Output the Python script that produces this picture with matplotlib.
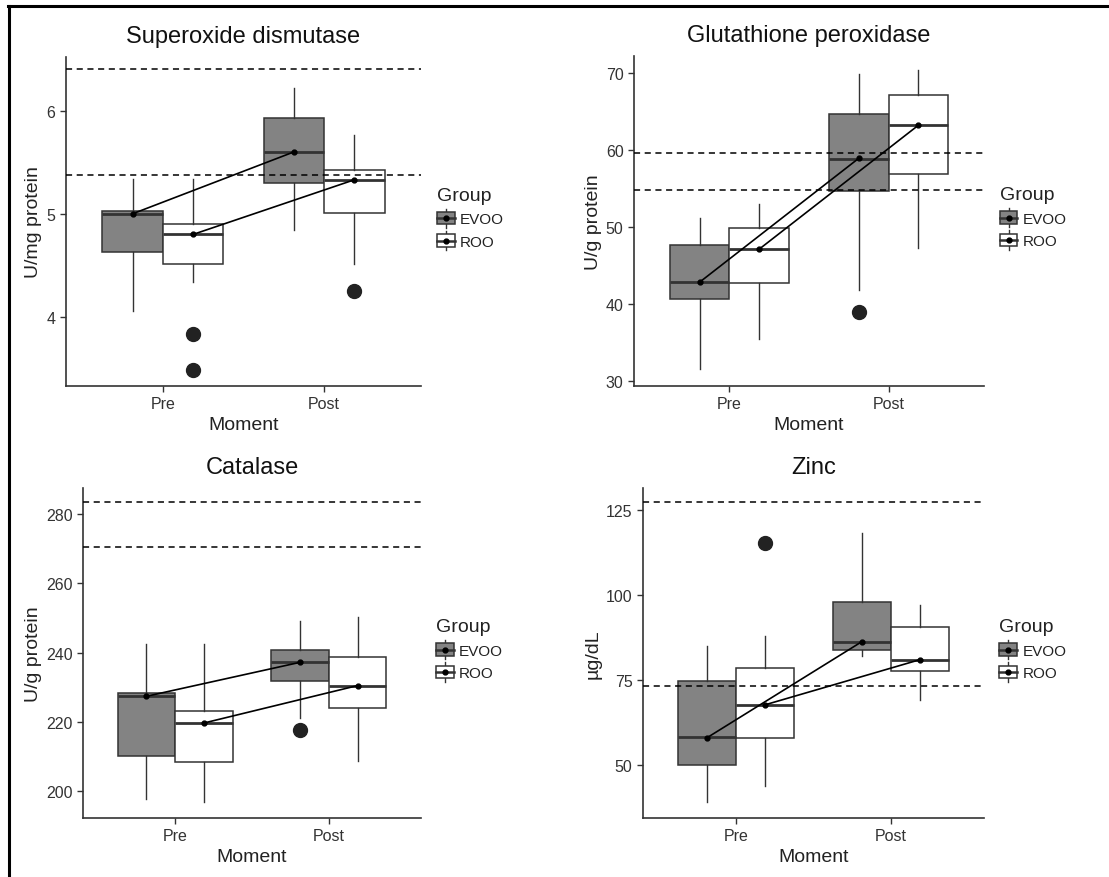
import matplotlib
matplotlib.use('Agg')
import matplotlib.pyplot as plt
from matplotlib.legend_handler import HandlerBase
from matplotlib.patches import Rectangle, Patch
from matplotlib.lines import Line2D

plt.rcParams['font.family'] = ['Liberation Sans', 'DejaVu Sans']

# order of every list: EVOO Pre, EVOO Post, ROO Pre, ROO Post
groups = ['EVOO', 'ROO']
moments = ['Pre', 'Post']
group_colors = ['#838383', '#ffffff']

# Superoxide dismutase
sod_whislo = [4.06, 4.84, 4.34, 4.51]
sod_q1 = [4.63, 5.30, 4.51, 5.01]
sod_med = [5.00, 5.60, 4.80, 5.33]
sod_q3 = [5.03, 5.93, 4.90, 5.42]
sod_whishi = [5.34, 6.22, 5.34, 5.76]
sod_mean = [5.00, 5.60, 4.80, 5.33]
sod_fliers = [[], [], [3.83, 3.49], [4.25]]
sod_ref = [5.38, 6.40]

# Glutathione peroxidase
gpx_whislo = [31.5, 41.8, 35.4, 47.2]
gpx_q1 = [40.6, 54.6, 42.7, 56.9]
gpx_med = [42.8, 58.8, 47.1, 63.2]
gpx_q3 = [47.6, 64.6, 49.9, 67.1]
gpx_whishi = [51.1, 69.9, 52.9, 70.4]
gpx_mean = [42.8, 58.9, 47.1, 63.2]
gpx_fliers = [[], [38.9], [], []]
gpx_ref = [54.8, 59.6]

# Catalase
cat_whislo = [197.8, 221.1, 196.8, 208.8]
cat_q1 = [210.1, 231.7, 208.5, 224.0]
cat_med = [227.6, 237.2, 219.7, 230.5]
cat_q3 = [228.3, 240.9, 223.3, 238.7]
cat_whishi = [242.5, 249.1, 242.4, 250.4]
cat_mean = [227.4, 237.2, 219.7, 230.5]
cat_fliers = [[], [217.8], [], []]
cat_ref = [270.4, 283.4]

# Zinc
zn_whislo = [39.1, 82.1, 43.8, 69.0]
zn_q1 = [50.0, 83.8, 57.8, 77.5]
zn_med = [58.1, 86.2, 67.6, 80.9]
zn_q3 = [74.5, 97.9, 78.4, 90.4]
zn_whishi = [85.0, 118.1, 87.9, 97.0]
zn_mean = [57.9, 86.2, 67.6, 80.9]
zn_fliers = [[], [], [115.1], []]
zn_ref = [73.1, 127.2]

titles = ['Superoxide dismutase', 'Glutathione peroxidase', 'Catalase', 'Zinc']
ylabels = ['U/mg protein', 'U/g protein', 'U/g protein', 'µg/dL']
yticks = [[4, 5, 6], [30, 40, 50, 60, 70], [200, 220, 240, 260, 280], [50, 75, 100, 125]]
ylims = [(3.33, 6.52), (29.3, 72.2), (192.3, 287.5), (34.3, 131.4)]

panel_data = [
    (sod_whislo, sod_q1, sod_med, sod_q3, sod_whishi, sod_mean, sod_fliers, sod_ref),
    (gpx_whislo, gpx_q1, gpx_med, gpx_q3, gpx_whishi, gpx_mean, gpx_fliers, gpx_ref),
    (cat_whislo, cat_q1, cat_med, cat_q3, cat_whishi, cat_mean, cat_fliers, cat_ref),
    (zn_whislo, zn_q1, zn_med, zn_q3, zn_whishi, zn_mean, zn_fliers, zn_ref),
]

# axes rectangles (figure fraction)
rects = [
    [0.0595, 0.5592, 0.3201, 0.3747],
    [0.5717, 0.5592, 0.3156, 0.3759],
    [0.0748, 0.0672, 0.3048, 0.3759],
    [0.5798, 0.0672, 0.3075, 0.3759],
]

EDGE = '#333333'


class BoxKeyHandler(HandlerBase):
    """ggplot-like boxplot key: box, whisker, median, mean dot"""
    def create_artists(self, legend, orig_handle, xdescent, ydescent,
                       width, height, fontsize, trans):
        fc = orig_handle.get_facecolor()
        cx = -xdescent + width / 2
        cy = -ydescent + height / 2
        bh = height * 0.8
        whisk = Line2D([cx, cx], [-ydescent - height * 0.12, -ydescent + height * 1.12],
                       color=EDGE, lw=1.0, transform=trans)
        box = Rectangle((-xdescent, cy - bh / 2), width, bh, facecolor=fc,
                        edgecolor=EDGE, lw=1.1, transform=trans)
        med = Line2D([-xdescent, -xdescent + width], [cy, cy], color=EDGE, lw=1.8,
                     transform=trans)
        dot = Line2D([cx], [cy], marker='o', ms=3.5, color='black', transform=trans)
        return [whisk, box, med, dot]


fig = plt.figure(figsize=(11.09, 8.78), dpi=100)
fig.patch.set_facecolor('white')

offset = 0.1875
width = 0.375
for i, (whislo, q1, med, q3, whishi, mean, fliers, ref) in enumerate(panel_data):
    ax = fig.add_axes(rects[i])
    for g in range(2):
        stats = []
        positions = []
        for m in range(2):
            k = g * 2 + m
            stats.append(dict(whislo=whislo[k], q1=q1[k], med=med[k], q3=q3[k],
                              whishi=whishi[k], fliers=fliers[k]))
            positions.append(m + 1 + (offset if g == 1 else -offset))
        ax.bxp(stats, positions=positions, widths=width, patch_artist=True,
               showcaps=False, manage_ticks=False,
               boxprops=dict(facecolor=group_colors[g], edgecolor=EDGE, lw=1.1),
               medianprops=dict(color=EDGE, lw=2.0, solid_capstyle='butt'),
               whiskerprops=dict(color=EDGE, lw=1.0),
               flierprops=dict(marker='o', markerfacecolor='#222222',
                               markeredgecolor='#222222', markersize=10),
               zorder=2)
        ax.plot(positions, mean[g * 2:g * 2 + 2], color='black', lw=1.2,
                marker='o', ms=3.5, zorder=4)
    for r in ref:
        ax.axhline(r, color='black', lw=1.1, linestyle=(0, (4, 3)), zorder=3)

    ax.set_xlim(0.4, 2.6)
    ax.set_ylim(*ylims[i])
    ax.set_xticks([1, 2])
    ax.set_xticklabels(moments)
    ax.set_yticks(yticks[i])
    ax.tick_params(colors=EDGE, labelcolor='#333333', labelsize=11.5, length=4, width=1.0)
    for s in ['top', 'right']:
        ax.spines[s].set_visible(False)
    for s in ['left', 'bottom']:
        ax.spines[s].set_color(EDGE)
        ax.spines[s].set_linewidth(1.2)
    ax.set_title(titles[i], fontsize=17, pad=11, color='#111111')
    ax.set_xlabel('Moment', fontsize=14, color='#222222', labelpad=3)
    ax.set_ylabel(ylabels[i], fontsize=14, color='#222222', labelpad=3)

    handles = [Patch(facecolor=c, edgecolor=EDGE) for c in group_colors]
    leg = ax.legend(handles, groups, title='Group', loc='upper left',
                    bbox_to_anchor=(1.045, 0.605), frameon=False, fontsize=11,
                    title_fontsize=14, alignment='left', handlelength=1.15,
                    handleheight=1.2, handletextpad=0.35, labelspacing=0.42,
                    borderpad=0, borderaxespad=0,
                    handler_map={Patch: BoxKeyHandler()})
    for t in leg.get_texts():
        t.set_color('#222222')
    leg.get_title().set_color('#222222')

# figure border (top and left edges)
fig.add_artist(Line2D([0.0075, 1.0], [1 - 7 / 878, 1 - 7 / 878], color='black', lw=2.2,
                      transform=fig.transFigure))
fig.add_artist(Line2D([9 / 1109, 9 / 1109], [0.0, 1 - 7 / 878], color='black', lw=2.2,
                      transform=fig.transFigure))

fig.savefig('out.png', dpi=100, facecolor='white')
